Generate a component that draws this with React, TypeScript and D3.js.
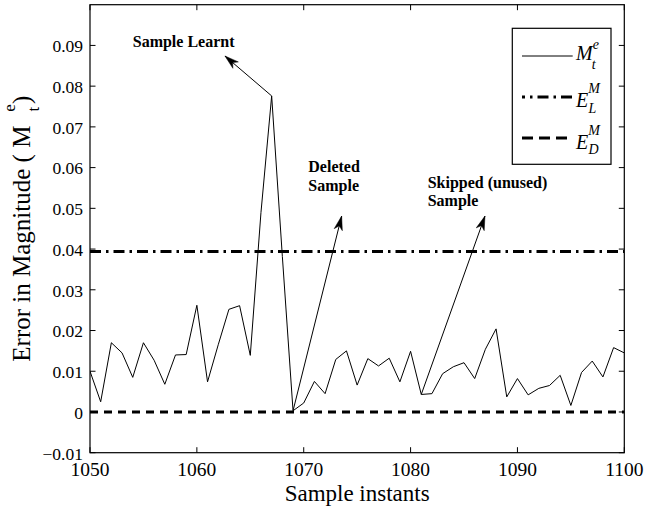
import React from "react";
import * as d3 from "d3";

// ---- data ----
const sampleInstants = [
  1050, 1051, 1052, 1053, 1054, 1055, 1056, 1057, 1058, 1059,
  1060, 1061, 1062, 1063, 1064, 1065, 1066, 1067, 1068, 1069,
  1070, 1071, 1072, 1073, 1074, 1075, 1076, 1077, 1078, 1079,
  1080, 1081, 1082, 1083, 1084, 1085, 1086, 1087, 1088, 1089,
  1090, 1091, 1092, 1093, 1094, 1095, 1096, 1097, 1098, 1099, 1100,
];
const errorMagnitude = [
  0.0100, 0.0025, 0.0170, 0.0145, 0.0085, 0.0170, 0.0127, 0.0068, 0.0140, 0.0141,
  0.0262, 0.0074, 0.0165, 0.0252, 0.0261, 0.0139, 0.0490, 0.0776, 0.0382, 0.0003,
  0.0022, 0.0075, 0.0045, 0.0129, 0.0150, 0.0066, 0.0131, 0.0113, 0.0132, 0.0074,
  0.0149, 0.0043, 0.0045, 0.0094, 0.0111, 0.0121, 0.0082, 0.0154, 0.0204, 0.0037,
  0.0082, 0.0042, 0.0058, 0.0065, 0.0090, 0.0016, 0.0097, 0.0125, 0.0086, 0.0158, 0.0145,
];
const learnThreshold = 0.0394; // E_L^M
const deleteThreshold = 0.0; // E_D^M

const xTicks = [1050, 1060, 1070, 1080, 1090, 1100];
const yTicks = [-0.01, 0, 0.01, 0.02, 0.03, 0.04, 0.05, 0.06, 0.07, 0.08, 0.09];
const yTickLabels = ["\u22120.01", "0", "0.01", "0.02", "0.03", "0.04", "0.05", "0.06", "0.07", "0.08", "0.09"];

const annLines = [["Sample Learnt"], ["Deleted", "Sample"], ["Skipped (unused)", "Sample"]];
const annTextX = [1054.0, 1070.43, 1081.6];
const annTextY = [0.0896, 0.0588, 0.0551];
const annFromX = [1067, 1069, 1081];
const annToX = [1062.63, 1073.55, 1086.96];
const annToY = [0.0874, 0.0481, 0.0481];

const legendMain = ["M", "E", "E"];
const legendSup = ["e", "M", "M"];
const legendSub = ["t", "L", "D"];

const W = 646;
const H = 510;
const left = 90;
const right = 624.3;
const top = 4.7;
const bottom = 452.7;
const serif = "Liberation Serif, Times New Roman, serif";
const ink = "#000";

export default function App() {
  const x = d3.scaleLinear().domain([1050, 1100]).range([left, right]);
  const y = d3.scaleLinear().domain([-0.01, 0.1]).range([bottom, top]);
  const pts: [number, number][] = sampleInstants.map((t, i) => [t, errorMagnitude[i]]);
  const line = d3
    .line<[number, number]>()
    .x((d) => x(d[0]))
    .y((d) => y(d[1]));
  const tl = 5.5;

  const arrowHead = (x1: number, y1: number, x2: number, y2: number) => {
    const ang = Math.atan2(y2 - y1, x2 - x1);
    const L = 14;
    const w = 4.2;
    const rot = (px: number, py: number) => [
      x2 + px * Math.cos(ang) - py * Math.sin(ang),
      y2 + px * Math.sin(ang) + py * Math.cos(ang),
    ];
    const p = [rot(0, 0), rot(-L, w), rot(-0.72 * L, 0), rot(-L, -w)];
    return "M" + p.map((q) => q.join(",")).join("L") + "Z";
  };

  const legendRows = [56, 97, 138];
  const mainBase = [4, 10, 11];
  const supDy = [-11, -14, -14];
  const subDy = [20, 20, 19];
  const subDx = [-7.2, -11.5, -11.5];
  const lx1 = 522;
  const lx2 = 572.7;
  const dashes = ["none", "11 5 2.5 5", "11 6"];
  const widths = [1, 3, 3];

  return (
    <svg
      width={W}
      height={H}
      style={{ position: "absolute", left: 0, top: 0, background: "#fff", fontFamily: serif }}
    >
      <rect x={0} y={0} width={W} height={H} fill="#fff" />
      <defs>
        <clipPath id="plotclip">
          <rect x={left} y={top} width={right - left} height={bottom - top} />
        </clipPath>
      </defs>

      {/* data */}
      <g clipPath="url(#plotclip)">
        <path d={line(pts) || ""} fill="none" stroke={ink} strokeWidth={1} strokeLinejoin="miter" />
        <line
          x1={left}
          x2={right}
          y1={y(learnThreshold)}
          y2={y(learnThreshold)}
          stroke={ink}
          strokeWidth={3}
          strokeDasharray="11 5 2.5 5"
        />
        <line
          x1={left}
          x2={right}
          y1={y(deleteThreshold)}
          y2={y(deleteThreshold)}
          stroke={ink}
          strokeWidth={3}
          strokeDasharray="8 6"
        />
      </g>

      {/* axes box */}
      <rect x={left} y={top} width={right - left} height={bottom - top} fill="none" stroke={ink} strokeWidth={1.2} />
      {xTicks.map((t) => (
        <g key={"xt" + t}>
          <line x1={x(t)} x2={x(t)} y1={bottom} y2={bottom - tl} stroke={ink} strokeWidth={1} />
          <line x1={x(t)} x2={x(t)} y1={top} y2={top + tl} stroke={ink} strokeWidth={1} />
          <text x={x(t)} y={bottom + 22.8} fontSize={19.5} textAnchor="middle" fill={ink} style={{ fontFamily: serif }}>
            {t}
          </text>
        </g>
      ))}
      {yTicks.map((t, i) => (
        <g key={"yt" + i}>
          <line x1={left} x2={left + tl} y1={y(t)} y2={y(t)} stroke={ink} strokeWidth={1} />
          <line x1={right} x2={right - tl} y1={y(t)} y2={y(t)} stroke={ink} strokeWidth={1} />
          <text x={left - 7} y={y(t) + 6.8} fontSize={17.5} textAnchor="end" fill={ink} style={{ fontFamily: serif }}>
            {yTickLabels[i]}
          </text>
        </g>
      ))}

      {/* axis labels */}
      <text x={(left + right) / 2} y={500.5} fontSize={23} textAnchor="middle" fill={ink} style={{ fontFamily: serif }}>
        Sample instants
      </text>
      <text
        transform={`translate(30,${(top + bottom) / 2}) rotate(-90)`}
        fontSize={25}
        textAnchor="middle"
        fill={ink}
        style={{ fontFamily: serif }}
      >
        Error in Magnitude ( M
        <tspan fontSize={17} dx={14} dy={-15}>e</tspan>
        <tspan fontSize={17} dx={-7.5} dy={24}>t</tspan>
        <tspan dx={2.8} dy={-9}>)</tspan>
      </text>

      {/* annotations */}
      {annLines.map((lines, i) => {
        const fi = sampleInstants.indexOf(annFromX[i]);
        const x1 = x(annFromX[i]);
        const y1 = y(errorMagnitude[fi]);
        const x2 = x(annToX[i]);
        const y2 = y(annToY[i]);
        return (
          <g key={"ann" + i}>
            <line x1={x1} y1={y1} x2={x2} y2={y2} stroke={ink} strokeWidth={1} />
            <path d={arrowHead(x1, y1, x2, y2)} fill={ink} stroke={ink} strokeWidth={0.5} />
            <text
              x={x(annTextX[i])}
              y={y(annTextY[i])}
              fontSize={16}
              fontWeight="bold"
              fill={ink}
              style={{ fontFamily: serif }}
            >
              {lines.map((s, j) => (
                <tspan key={j} x={x(annTextX[i])} dy={j === 0 ? 0 : 18.8}>
                  {s}
                </tspan>
              ))}
            </text>
          </g>
        );
      })}

      {/* legend */}
      <rect x={512.3} y={28.3} width={611 - 512.3} height={164.3 - 28.3} fill="#fff" stroke={ink} strokeWidth={1.2} />
      {legendRows.map((ry, i) => (
        <g key={"lg" + i}>
          <line
            x1={lx1}
            x2={lx2}
            y1={ry}
            y2={ry}
            stroke={ink}
            strokeWidth={widths[i]}
            strokeDasharray={dashes[i] === "none" ? undefined : dashes[i]}
            strokeDashoffset={i === 1 ? 8 : 0}
          />
          <text x={576} y={ry + mainBase[i]} fontSize={20} fontStyle="italic" fill={ink} style={{ fontFamily: serif }}>
            {legendMain[i]}
            <tspan fontSize={14} dx={0} dy={supDy[i]}>{legendSup[i]}</tspan>
            <tspan fontSize={14} dx={subDx[i]} dy={subDy[i]}>{legendSub[i]}</tspan>
          </text>
        </g>
      ))}
    </svg>
  );
}
